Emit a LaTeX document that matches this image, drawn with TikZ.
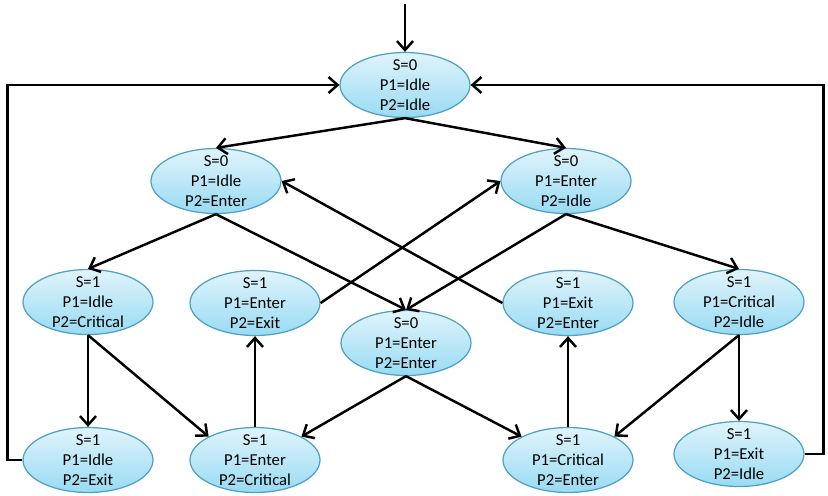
\documentclass[tikz,border=0pt]{standalone}
\usepackage{fontspec}
\setmainfont{Carlito}
\usepackage{tikz}
\usetikzlibrary{shapes.geometric, arrows.meta}

\definecolor{statetop}{RGB}{224,244,251}
\definecolor{statebot}{RGB}{152,219,243}
\definecolor{stateline}{RGB}{78,160,196}

\begin{document}
\begin{tikzpicture}[
  x=0.02cm, y=-0.02cm,
  state/.style={ellipse, draw=stateline, line width=0.7pt, top color=statetop, bottom color=statebot, minimum width=2.6cm, minimum height=1.3cm, inner xsep=0pt, inner ysep=-3pt, align=center, font=\fontsize{9.5}{11.4}\selectfont},
  edge/.style={line width=1.4pt, -{Straight Barb[length=1.8mm, width=3.2mm]}}
]
  \useasboundingbox (0,0) rectangle (828,495);
  \coordinate (start) at (405,4);
  \node[state] (ii) at (405,85) {S=0\\P1=Idle\\P2=Idle};
  \node[state] (ie) at (216,181) {S=0\\P1=Idle\\P2=Enter};
  \node[state] (ei) at (566,181) {S=0\\P1=Enter\\P2=Idle};
  \node[state] (ic) at (88,302) {S=1\\P1=Idle\\P2=Critical};
  \node[state] (ex) at (255,303) {S=1\\P1=Enter\\P2=Exit};
  \node[state] (ee) at (406,343) {S=0\\P1=Enter\\P2=Enter};
  \node[state] (xe) at (568,303) {S=1\\P1=Exit\\P2=Enter};
  \node[state] (ci) at (739,302) {S=1\\P1=Critical\\P2=Idle};
  \node[state] (ix) at (88,460) {S=1\\P1=Idle\\P2=Exit};
  \node[state] (ec) at (255,460) {S=1\\P1=Enter\\P2=Critical};
  \node[state] (ce) at (568,460) {S=1\\P1=Critical\\P2=Enter};
  \node[state] (xi) at (739,454) {S=1\\P1=Exit\\P2=Idle};

  \draw[edge] (start) -- (ii);
  \draw[edge] (ii.south) -- (ie.north);
  \draw[edge] (ii.south) -- (ei.north);
  \draw[edge] (ie.south) -- (ic.north);
  \draw[edge] (ie.south) -- (ee.north);
  \draw[edge] (ei.south) -- (ee.north);
  \draw[edge] (ei.south) -- (ci.north);
  \draw[edge] (ex.east) -- (ei.west);
  \draw[edge] (xe.west) -- (ie.east);
  \draw[edge] (ic.south) -- (ix.north);
  \draw[edge] (ic.south) -- (ec.north west);
  \draw[edge] (ec.north) -- (ex.south);
  \draw[edge] (ee.south) -- (ec.north east);
  \draw[edge] (ee.south) -- (ce.north west);
  \draw[edge] (ce.north) -- (xe.south);
  \draw[edge] (ci.south) -- (xi.north);
  \draw[edge] (ci.south) -- (ce.north east);
  \draw[edge] (ix.west) -- ++(-15,0) |- (ii.west);
  \draw[edge] (xi.east) -- ++(19,0) |- (ii.east);
\end{tikzpicture}
\end{document}
